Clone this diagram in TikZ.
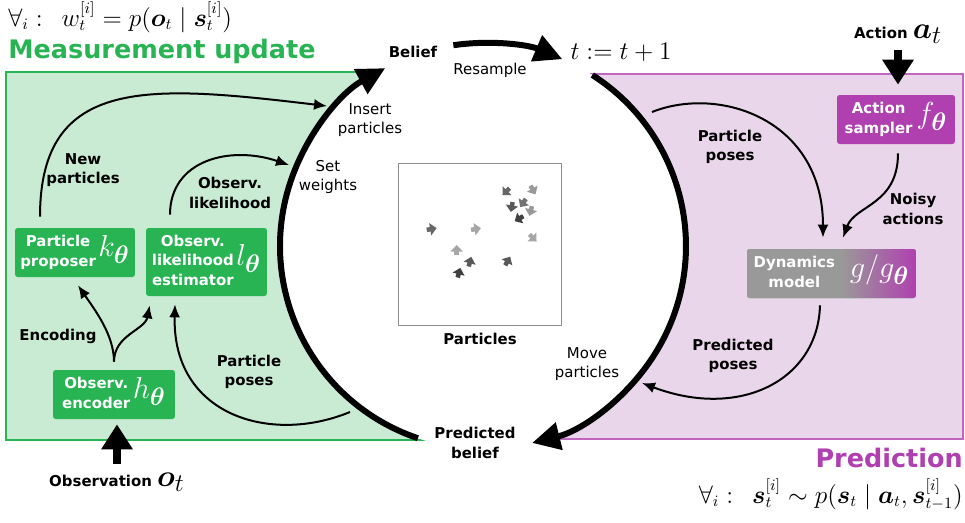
\documentclass[tikz,border=0pt]{standalone}
\usepackage{amsmath,amssymb,bm}
\usepackage{fontspec}
\usepackage{xcolor}
\usepackage{tikz}
\usetikzlibrary{arrows.meta,positioning,calc}
\newfontfamily\dejavu{DejaVu Sans}

\definecolor{mgreen}{RGB}{41,180,84}
\definecolor{mgreenbg}{RGB}{201,235,212}
\definecolor{mpurple}{RGB}{176,64,176}
\definecolor{mpurplebg}{RGB}{234,214,234}
\definecolor{dyngray}{RGB}{153,153,153}
\pgfdeclarehorizontalshading{dynshade}{100bp}{color(0bp)=(dyngray); color(25bp)=(dyngray); color(53bp)=(dyngray); color(75bp)=(mpurple); color(100bp)=(mpurple)}
\newcommand{\symb}[1]{{\fontsize{19}{19}\selectfont$#1$}}

\begin{document}
\begin{tikzpicture}[x=0.02cm,y=-0.02cm,
  lbl/.style={font=\dejavu\bfseries\fontsize{8.5}{11}\selectfont,align=center,inner sep=0pt},
  note/.style={font=\dejavu\fontsize{8.5}{11}\selectfont,align=center,inner sep=0pt},
  title/.style={font=\dejavu\bfseries\fontsize{14.5}{17}\selectfont,inner sep=0pt},
  formula/.style={font=\fontsize{13.5}{15}\selectfont,inner sep=0pt},
  gbox/.style={fill=mgreen,rounded corners=1.5pt,text=white,inner sep=2pt,
    font=\dejavu\bfseries\fontsize{8.5}{11}\selectfont},
  pbox/.style={gbox,fill=mpurple},
  conn/.style={line width=0.04cm,-{Latex[length=0.26cm,width=0.22cm]}},
  looparc/.style={line width=0.12cm,-{Triangle[length=0.56cm,width=0.54cm]}},
  bigarrow/.style={line width=0.15cm,-{Triangle[length=0.5cm,width=0.6cm]}},
  parrow/.style={line width=0.09cm,-{Triangle[length=0.13cm,width=0.24cm]}}]
\useasboundingbox (0,0) rectangle (965,522);

% regions
\draw[draw=mgreen,fill=mgreenbg,line width=0.03cm] (6,72) rectangle (483,440);
\draw[draw=mpurple!80,fill=mpurplebg,line width=0.03cm] (483,74) rectangle (963,439);
\coordinate (ctr) at (483,246);
\fill[white] (ctr) circle[radius=4.06cm];

\node[title,text=mgreen,anchor=base west] (mtitle) at (8,58) {Measurement update};
\node[title,text=mpurple,anchor=base east] (ptitle) at (963,467) {Prediction};
\node[formula,anchor=base west] (wform) at (8,26)
  {$\forall_i:\enspace w_t^{[i]} = p(\bm{o}_t \mid \bm{s}_t^{[i]})$};
\node[formula,anchor=base east] (sform) at (963,503)
  {$\forall_i:\enspace \bm{s}_t^{[i]} \sim p(\bm{s}_t \mid \bm{a}_t, \bm{s}_{t-1}^{[i]})$};

% main cycle
\node[lbl] (belief) at (413,52) {Belief};
\node[formula] (tnext) at (621,52) {$t := t+1$};
\node[lbl] (predbelief) at (475,443) {Predicted\\belief};
\node[note] (resample) at (490,70) {Resample};
\node[note] (insert) at (370,120) {Insert\\particles};
\node[note] (setw) at (328,177) {Set\\weights};
\node[note] (move) at (587,364) {Move\\particles};
\draw[looparc] (ctr) ++(98.4:4.06cm) arc[start angle=98.4,end angle=67,radius=4.06cm];
\draw[looparc] (ctr) ++(57.4:4.06cm) arc[start angle=57.4,end angle=-76,radius=4.06cm];
\draw[looparc] (ctr) ++(251.3:4.06cm) arc[start angle=251.3,end angle=118.8,radius=4.06cm];

% particles
\node[draw=black!45,line width=0.02cm,minimum width=3.28cm,minimum height=3.26cm,inner sep=0pt] (partbox) at (480,244.5) {};
\node[lbl,below=0.12cm of partbox] (partcap) {Particles};
\foreach \px/\py/\pa/\ps in {431.7/229/10/60, 476/229/10/35, 456.7/250/90/35,
  470/261.7/75/65, 459/272.7/75/75, 507.7/261/60/65, 506/191.7/225/60,
  533/190/300/40, 511.7/207/260/65, 523/203/235/55, 530.7/211/255/40,
  519/218.7/210/75, 533/238/315/35}
  \draw[parrow,black!\ps] (\px,\py) ++(\pa+180:0.1cm) -- ++(\pa:0.2cm);

% measurement update
\node[gbox,minimum width=2.4cm,minimum height=0.98cm] (proposer) at (75,252.5)
  {\begin{tabular}{@{}c@{}}Particle\\proposer\end{tabular}\,\symb{k_{\bm\theta}}};
\node[gbox,minimum width=2.42cm,minimum height=1.36cm] (likeli) at (206.5,262)
  {\begin{tabular}{@{}c@{}}Observ.\\likelihood\\estimator\end{tabular}\,\symb{l_{\bm\theta}}};
\node[gbox,minimum width=2.44cm,minimum height=0.98cm] (encoder) at (114,394.5)
  {\begin{tabular}{@{}c@{}}Observ.\\encoder\end{tabular}\,\symb{h_{\bm\theta}}};
\node[lbl] (newpart) at (83,170) {New\\particles};
\node[lbl] (obslik) at (230,193) {Observ.\\likelihood};
\node[lbl] (encoding) at (58,336) {Encoding};
\node[lbl] (gposes) at (249,372) {Particle\\poses};
\node[lbl,anchor=base] (obs) at (117,486) {Observation \symb{\bm{o}_t}};

\coordinate (insertpt) at (327,106);
\coordinate (weightpt) at (289,165);
\coordinate (leavept) at (350,412);
\draw[conn] ([xshift=-0.7cm,yshift=0.22cm]proposer.north) .. controls (40,75) and (150,85) .. (insertpt);
\draw[conn] ([xshift=-0.73cm,yshift=0.26cm]likeli.north) .. controls (170,160) and (230,145) .. (weightpt);
\draw[conn] ([yshift=0.16cm]encoder.north) .. controls (114,335) and (95,310) .. ([xshift=0.06cm,yshift=-0.16cm]proposer.south);
\draw[conn] ([yshift=0.16cm]encoder.north) .. controls (114,335) and (145,330) .. ([xshift=0.08cm,yshift=-0.18cm]likeli.south west);
\draw[conn] (leavept) .. controls (270,445) and (172,415) .. ([xshift=-0.63cm,yshift=-0.16cm]likeli.south);
\draw[bigarrow] ([yshift=0.16cm]obs.north) -- ([yshift=-0.1cm]obs.north |- encoder.south);

% prediction
\node[pbox,minimum width=2.36cm,minimum height=0.98cm] (sampler) at (896,119.5)
  {\begin{tabular}{@{}c@{}}Action\\sampler\end{tabular}\;\symb{f_{\bm\theta}}};
\node[gbox,shading=dynshade,minimum width=3.38cm,minimum height=0.98cm] (dynamics) at (831.5,273.5)
  {\begin{tabular}{@{}c@{}}Dynamics\\model\end{tabular}\quad\symb{g/g_{\bm\theta}}};
\node[lbl,anchor=base] (action) at (898,38) {Action \symb{\bm{a}_t}};
\node[lbl] (pposes) at (730,147) {Particle\\poses};
\node[lbl] (noisy) at (913,209) {Noisy\\actions};
\node[lbl] (predposes) at (733,356) {Predicted\\poses};

\coordinate (enterpt) at (652,112);
\coordinate (movept) at (642,383);
\draw[bigarrow] ([yshift=-0.14cm]action.south) -- ([yshift=0.2cm]action.south |- sampler.north);
\draw[conn] (enterpt) .. controls (720,85) and (823,120) .. ([xshift=-0.17cm,yshift=0.22cm]dynamics.north);
\draw[conn] ([xshift=0.04cm,yshift=-0.18cm]sampler.south) .. controls (898,205) and (855,205) .. ([xshift=0.23cm,yshift=0.22cm]dynamics.north);
\draw[conn] ([xshift=-0.23cm,yshift=-0.14cm]dynamics.south) .. controls (818,380) and (740,420) .. (movept);
\end{tikzpicture}
\end{document}
